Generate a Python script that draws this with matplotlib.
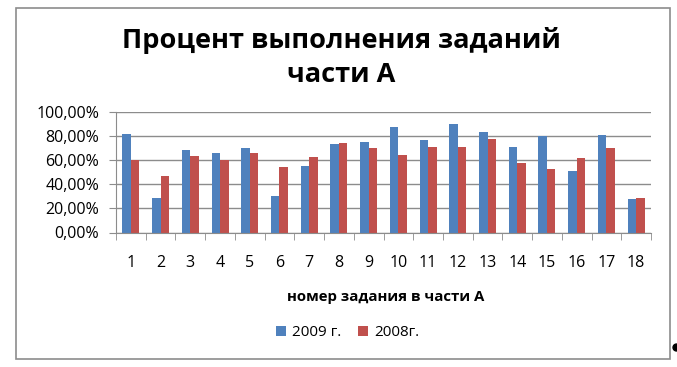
import numpy as np
import matplotlib
matplotlib.use("Agg")
import matplotlib.pyplot as plt
from matplotlib.patches import Rectangle
from matplotlib.ticker import FuncFormatter

tasks = [str(i) for i in range(1, 19)]
y2009 = [81.7, 28.6, 68.6, 66.1, 70.0, 30.0, 55.0, 73.3, 75.0, 87.5, 76.4, 90.3, 83.6, 71.1, 80.3, 51.1, 81.1, 27.5]
y2008 = [60.5, 46.9, 63.9, 60.0, 66.1, 54.2, 62.5, 74.4, 70.5, 64.7, 71.1, 71.1, 77.8, 58.0, 52.8, 61.9, 70.5, 28.9]
series_names = ["2009 г.", "2008г."]

plt.rcParams['font.family'] = ['Open Sans', 'DejaVu Sans']

W, H = 677, 367
fig = plt.figure(figsize=(W / 100, H / 100), dpi=100)

# chart border
fig.patches.append(Rectangle((16 / W, 1 - 359 / H), (670 - 16) / W, (359 - 8) / H,
                             transform=fig.transFigure, fill=False,
                             edgecolor='#8c8c8c', linewidth=1.2))

ax = fig.add_axes([116 / W, 1 - 232.5 / H, (651 - 116) / W, (232.5 - 112) / H])

x = np.arange(len(tasks))
w = 1 / 3.5
ax.bar(x - w / 2, y2009, width=w, color='#4F81BD', label=series_names[0])
ax.bar(x + w / 2, y2008, width=w, color='#C0504D', label=series_names[1])

ax.set_xlim(-0.5, len(tasks) - 0.5)
ax.set_ylim(0, 100)
ax.set_yticks(np.arange(0, 101, 20))
ax.yaxis.set_major_formatter(FuncFormatter(lambda v, p: f"{v:.2f}%".replace('.', ',')))
ax.yaxis.grid(True, color='#8c8c8c', linewidth=1)
ax.set_axisbelow(True)

ax.set_xticks(x)
ax.set_xticklabels(tasks)
ax.set_xticks(np.arange(-0.5, len(tasks)), minor=True)
ax.tick_params(axis='x', which='major', length=0, pad=16, labelsize=11.5)
ax.tick_params(axis='x', which='minor', length=5, color='#8c8c8c', direction='out')
ax.tick_params(axis='y', length=5, color='#8c8c8c', labelsize=11.5, pad=7)

for s in ['top', 'right']:
    ax.spines[s].set_visible(False)
for s in ['left', 'bottom']:
    ax.spines[s].set_color('#8c8c8c')

fig.text(341 / W, 1 - 41 / H, "Процент выполнения заданий", ha='center', va='center',
         fontsize=19.5, fontweight='bold')
fig.text(341 / W, 1 - 75 / H, "части А", ha='center', va='center',
         fontsize=19.5, fontweight='bold')

fig.text(386 / W, 1 - 297 / H, "номер задания в части А", ha='center', va='center',
         fontsize=10.8, fontweight='bold')

fig.legend(loc='center', bbox_to_anchor=(348 / W, 1 - 333 / H), ncol=2, frameon=False,
           fontsize=11, handlelength=0.6, handleheight=0.6, columnspacing=1.1,
           handletextpad=0.45)

# small handle mark at the lower right corner of the picture
fig.add_artist(plt.Line2D([676 / W], [1 - 347 / H], marker='o', markersize=5,
                          color='black', transform=fig.transFigure))

fig.savefig("out.png", dpi=100)
